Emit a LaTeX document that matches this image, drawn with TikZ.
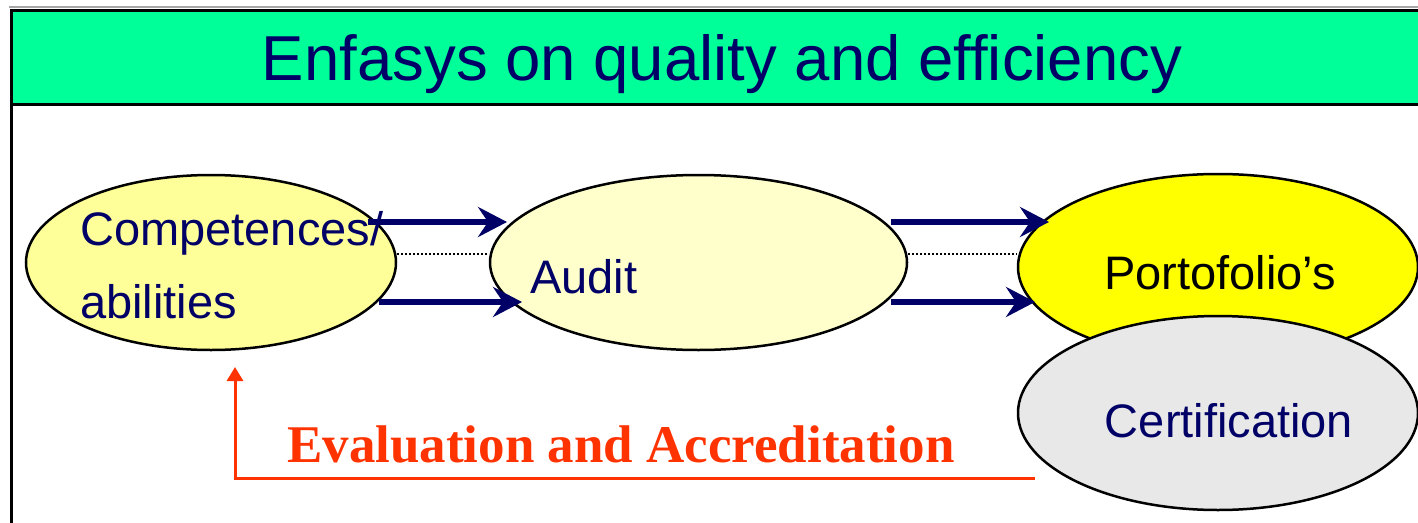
\documentclass[tikz,border=0pt]{standalone}
\usepackage{fontspec}
\setmainfont{Liberation Sans}
\newfontfamily\evalfont{Liberation Serif}
\usetikzlibrary{shapes.geometric,arrows.meta}
\definecolor{navy}{HTML}{000066}
\definecolor{band}{HTML}{00FF99}
\definecolor{paleyel}{HTML}{FFFF99}
\definecolor{paleryel}{HTML}{FFFFCC}
\definecolor{brightyel}{HTML}{FFFF00}
\definecolor{certgray}{HTML}{E8E8E8}
\definecolor{evalred}{HTML}{FF3300}
\tikzset{
  oval/.style={ellipse, draw=black, line width=2.5pt, inner sep=0pt},
  lbl/.style={inner sep=0pt, font=\fontsize{47}{50}\selectfont, text=navy},
  flow/.style={draw=navy, line width=5.5pt, -{Stealth[length=29pt,width=30pt,inset=10pt]}},
  link/.style={draw=black, line width=2.2pt, dash pattern=on 2pt off 2pt},
  feedback/.style={draw=evalred, line width=3pt, -{Triangle[length=14pt,width=16pt]}}
}
\begin{document}
\begin{tikzpicture}[x=1pt,y=-1pt]
\useasboundingbox (0,0) rectangle (1418,522);
% frame and title band
\fill[white] (0,0) rectangle (1418,522);
\draw[gray!70, line width=1.5pt] (9,7) -- (1418,7);
\fill[band] (11,10) rectangle (1420,104);
\draw[black, line width=3pt] (1420,10) -- (11,10) -- (11,525);
\draw[black, line width=3pt] (11,104) -- (1420,104);
\node[inner sep=0pt, anchor=base, text=navy, font=\fontsize{63.5}{66}\selectfont] (title) at (722,80) {Enfasys on quality and efficiency};
% ellipses
\node[oval, fill=paleyel, minimum width=370pt, minimum height=175pt] (comp) at (211,262.5) {};
\node[oval, fill=paleryel, minimum width=417pt, minimum height=175pt] (audit) at (698.5,262.5) {};
\node[oval, fill=brightyel, minimum width=400pt, minimum height=186pt] (port) at (1218,267) {};
% connectors between ellipses
\coordinate (c1s) at (368,222);
\coordinate (c1e) at (507,222);
\coordinate (c2s) at (379,302);
\coordinate (c2e) at (522,302);
\coordinate (a1s) at (891,222);
\coordinate (a1e) at (1049,222);
\coordinate (a2s) at (891,302);
\coordinate (a2e) at (1035,302);
\draw[link] (comp.east |- 0,254) -- (audit.west |- 0,254);
\draw[link] (audit.east |- 0,254) -- (port.west |- 0,254);
\draw[flow] (c1s) -- (c1e);
\draw[flow] (c2s) -- (c2e);
\draw[flow] (a1s) -- (a1e);
\draw[flow] (a2s) -- (a2e);
\node[oval, fill=certgray, minimum width=400pt, minimum height=194pt] (cert) at (1218,413) {};
% labels
\node[lbl, anchor=base west] (comptxt) at (80,245) {Competences/};
\node[lbl, anchor=base west] (abiltxt) at (80,318) {abilities};
\node[lbl, anchor=base west] (audittxt) at (530,293) {Audit};
\node[lbl, anchor=base, text=black] (porttxt) at (1220,289) {Portofolio’s};
\node[lbl, anchor=base] (certtxt) at (1229,437) {Certification};
% feedback arrow
\coordinate (fbstart) at (1035,478);
\coordinate (fbcorner) at (235,478);
\coordinate (fbend) at (235,367);
\draw[feedback] (fbstart) -- (fbcorner) -- (fbend);
\node[inner sep=0pt, anchor=base west, text=evalred, font=\evalfont\bfseries\fontsize{53}{56}\selectfont] (evaltxt) at (287,462) {Evaluation and Accreditation};
\end{tikzpicture}
\end{document}
